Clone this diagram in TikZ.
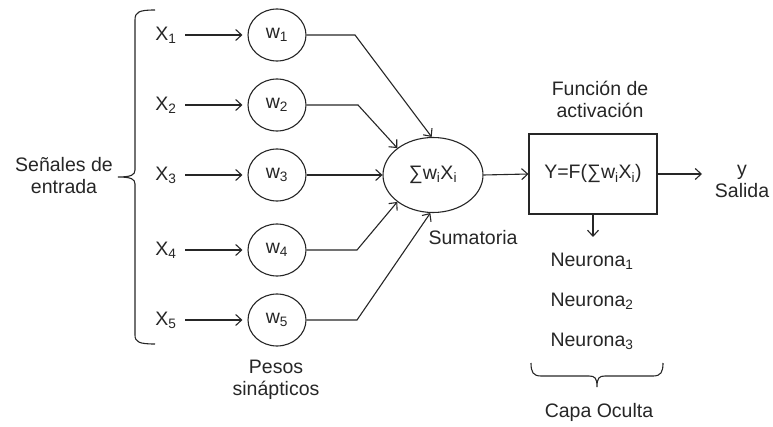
\documentclass[tikz,border=0pt]{standalone}
\usepackage{fontspec}
\setmainfont{Liberation Sans}
\usetikzlibrary{shapes.geometric,arrows.meta}

\tikzset{
  lbl/.style={font=\fontsize{19.5}{22}\selectfont, inner sep=0pt, align=center},
  wnode/.style={draw, ellipse, minimum width=58pt, minimum height=52pt, inner sep=0pt,
                font=\fontsize{19.5}{22}\selectfont},
  sumnode/.style={draw, ellipse, minimum width=100pt, minimum height=75pt, inner sep=0pt,
                font=\fontsize{19.5}{22}\selectfont},
  actbox/.style={draw, rectangle, minimum width=128pt, minimum height=80pt, inner sep=0pt,
                font=\fontsize{19.5}{22}\selectfont},
  arr/.style={-{Straight Barb[length=6pt,width=11pt]}},
  brace/.style={line width=1.1pt}
}

\begin{document}
\begin{tikzpicture}[x=1pt,y=-1pt, line width=1.1pt, color=black!85]
\useasboundingbox (0,0) rectangle (773,427);

% inputs and weights
\foreach \i/\y in {1/35,2/105,3/175,4/250,5/320}{
  \node[lbl] (x\i) at (166,\y) {X\textsubscript{\i}};
  \node[wnode] (w\i) at (277,\y) {w\textsubscript{\i}};
  \draw[arr, shorten <=8pt, shorten >=5pt] (x\i.east) -- (w\i.west);
}

% summation and activation
\node[sumnode] (sum) at (433,175) {∑w\textsubscript{i}X\textsubscript{i}};
\node[actbox] (act) at (593,174) {Y=F(∑w\textsubscript{i}X\textsubscript{i})};

% bend points of the weighted connections
\coordinate (b1) at (355,35);
\coordinate (b2) at (358,105);
\coordinate (b4) at (357,250);
\coordinate (b5) at (357,320);

\draw[arr] (w1) -- (b1) -- (sum.92);
\draw[arr] (w2) -- (b2) -- (sum.143);
\draw[arr] (w3) -- (sum.west);
\draw[arr] (w4) -- (b4) -- (sum.217);
\draw[arr] (w5) -- (b5) -- (sum.266);

\draw[arr] (sum.east) -- (act.west);
\coordinate (outend) at (702,174);
\draw[arr] (act.east) -- (outend);
\coordinate (downend) at (593,237);
\draw[arr] (act.south) -- (downend);

% labels
\node[lbl] (senales) at (64,176) {Señales de\\entrada};
\node[lbl] (pesos) at (276,380) {Pesos\\sinápticos};
\node[lbl] (sumat) at (473,238) {Sumatoria};
\node[lbl] (func) at (600,99) {Función de\\activación};
\node[lbl] (salida) at (742,181) {y\\Salida};
\node[lbl] (n1) at (592,261) {Neurona\textsubscript{1}};
\node[lbl] (n2) at (592,301) {Neurona\textsubscript{2}};
\node[lbl] (n3) at (592,341) {Neurona\textsubscript{3}};
\node[lbl] (capa) at (599,412) {Capa Oculta};

% left brace grouping the inputs
\draw[brace] (155,10) .. controls (139,10) and (135,12) .. (135,20)
  -- (135,170) .. controls (135,175) and (131,177) .. (118,177)
  .. controls (131,177) and (135,179) .. (135,184)
  -- (135,335) .. controls (135,342) and (139,344) .. (155,344);

% bottom brace under the hidden layer
\draw[brace] (531,363) .. controls (531,372) and (533,376) .. (541,376)
  -- (589,376) .. controls (595,376) and (597,378) .. (597,387)
  .. controls (597,378) and (599,376) .. (605,376)
  -- (653,376) .. controls (661,376) and (663,372) .. (663,363);
\end{tikzpicture}
\end{document}
